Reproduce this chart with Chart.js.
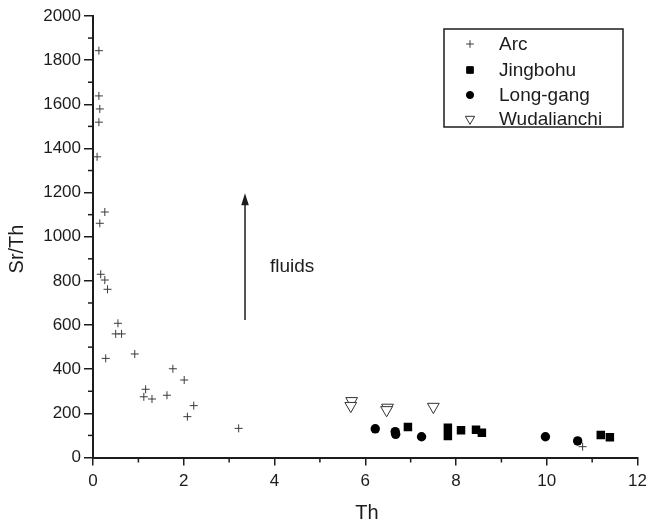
<!DOCTYPE html>
<html>
<head>
<meta charset="utf-8">
<script src="https://cdn.jsdelivr.net/npm/chart.js@4.4.1/dist/chart.umd.min.js"></script>
<style>
	body { margin: 0; background: #fff; }
	canvas { display: block; }
</style>
</head>
<body>
<canvas id="cntx_srth" width="653" height="525"></canvas>
<script>
// values
const arc_th = [0.13, 0.13, 0.15, 0.13, 0.09, 0.26, 0.15, 0.17, 0.26, 0.32, 0.55, 0.5, 0.63, 0.28, 0.92, 1.76, 1.16, 1.12, 1.3, 1.63, 2.01, 2.22, 2.08, 3.21, 10.79];
const arc_srth = [1843, 1638, 1579, 1519, 1362, 1112, 1061, 830, 804, 762, 608, 560, 560, 449, 469, 402, 309, 275, 265, 282, 351, 235, 185, 132, 49];
const jingbohu_th = [6.94, 7.82, 7.82, 8.11, 8.44, 8.57, 11.19, 11.39];
const jingbohu_srth = [138, 135, 97, 123, 126, 112, 102, 92];
const longgang_th = [6.22, 6.66, 6.67, 7.24, 9.97, 10.68];
const longgang_srth = [130, 117, 105, 94, 94, 75];
const wuda_th = [5.7, 5.68, 6.49, 6.47, 7.5];
const wuda_srth = [256, 234, 226, 215, 230];
const series_names = ["Arc", "Jingbohu", "Long-gang", "Wudalianchi"];
const x_ticks = [0, 2, 4, 6, 8, 10, 12];

const FONT = "'Liberation Sans', Arial, sans-serif";
const INK = "#1c1c1c";

const toPoints = (xs, ys) => xs.map((x, i) => ({ x: x, y: ys[i] }));

// minor ticks, axis titles, arrow, note and boxed legend
const extras = {
	id: "extras",
	afterDraw: (chart) => {
		const ctx = chart.ctx;
		const xs = chart.scales.x;
		const ys = chart.scales.y;
		const area = chart.chartArea;
		ctx.save();
		ctx.strokeStyle = INK;
		ctx.lineWidth = 1.5;
		for (let v = 100; v < 2000; v += 200) {
			const py = ys.getPixelForValue(v);
			ctx.beginPath();
			ctx.moveTo(area.left - 5, py);
			ctx.lineTo(area.left, py);
			ctx.stroke();
		}
		for (let v = 1; v < 12; v += 2) {
			const px = xs.getPixelForValue(v);
			ctx.beginPath();
			ctx.moveTo(px, area.bottom);
			ctx.lineTo(px, area.bottom + 5);
			ctx.stroke();
		}

		// axis titles
		ctx.fillStyle = INK;
		ctx.font = "20px " + FONT;
		ctx.textAlign = "center";
		ctx.textBaseline = "middle";
		ctx.fillText("Th", 367, 513);
		ctx.save();
		ctx.translate(17, 249);
		ctx.rotate(-Math.PI / 2);
		ctx.fillText("Sr/Th", 0, 0);
		ctx.restore();

		// fluids arrow
		const ax = xs.getPixelForValue(3.35);
		const ay0 = ys.getPixelForValue(623);
		const ay1 = ys.getPixelForValue(1197);
		ctx.beginPath();
		ctx.moveTo(ax, ay0);
		ctx.lineTo(ax, ay1 + 10);
		ctx.stroke();
		ctx.beginPath();
		ctx.moveTo(ax, ay1);
		ctx.lineTo(ax - 3.8, ay1 + 12);
		ctx.lineTo(ax + 3.8, ay1 + 12);
		ctx.closePath();
		ctx.fill();
		ctx.font = "19px " + FONT;
		ctx.textAlign = "left";
		ctx.fillText("fluids", xs.getPixelForValue(3.9), ys.getPixelForValue(863));

		// legend box
		ctx.lineWidth = 1.5;
		ctx.strokeRect(444, 29, 179, 98);
		const rows = [44, 70, 95, 119];
		const sizes = [3.8, 4.7, 3.6, 5.4];
		chart.data.datasets.forEach((ds, i) => {
			ctx.fillStyle = ds.backgroundColor;
			ctx.strokeStyle = ds.borderColor;
			ctx.lineWidth = 1;
			Chart.helpers.drawPoint(ctx, {
				pointStyle: ds.pointStyle,
				rotation: ds.rotation || 0,
				radius: sizes[i],
				borderWidth: 1,
			}, 470, rows[i]);
			ctx.fillStyle = INK;
			ctx.font = "19px " + FONT;
			ctx.fillText(ds.label, 499, rows[i] + 1);
		});
		ctx.restore();
	},
};

const canvas = document.querySelector("#cntx_srth");
const myChart = new Chart(canvas, {
	type: "scatter",
	data: {
		datasets: [
			{
				label: series_names[0],
				data: toPoints(arc_th, arc_srth),
				pointStyle: "cross",
				pointRadius: 4,
				borderColor: "#3a3a3a",
				backgroundColor: "#3a3a3a",
				borderWidth: 1,
			},
			{
				label: series_names[1],
				data: toPoints(jingbohu_th, jingbohu_srth),
				pointStyle: "rect",
				pointRadius: 6,
				borderColor: "#000",
				backgroundColor: "#000",
				borderWidth: 0,
			},
			{
				label: series_names[2],
				data: toPoints(longgang_th, longgang_srth),
				pointStyle: "circle",
				pointRadius: 4.7,
				borderColor: "#000",
				backgroundColor: "#000",
				borderWidth: 0,
			},
			{
				label: series_names[3],
				data: toPoints(wuda_th, wuda_srth),
				pointStyle: "triangle",
				rotation: 180,
				pointRadius: 6.8,
				borderColor: "#333",
				backgroundColor: "#fff",
				borderWidth: 1,
			},
		],
	},
	options: {
		responsive: false,
		animation: false,
		devicePixelRatio: 1,
		layout: {
			padding: { left: 0, right: 11, top: 16, bottom: 0 },
		},
		plugins: {
			legend: { display: false },
			tooltip: { enabled: false },
		},
		scales: {
			x: {
				type: "linear",
				min: 0,
				max: 12,
				afterBuildTicks: (scale) => {
					scale.ticks = x_ticks.map((v) => ({ value: v }));
				},
				afterFit: (scale) => {
					scale.height = 67.5;
				},
				ticks: {
					font: { size: 17, family: FONT },
					color: INK,
					padding: 6,
					maxRotation: 0,
					callback: (v) => String(v),
				},
				grid: {
					drawOnChartArea: false,
					color: INK,
					lineWidth: 1.5,
					tickLength: 8,
				},
				border: { color: INK, width: 2 },
			},
			y: {
				type: "linear",
				min: 0,
				max: 2000,
				ticks: {
					stepSize: 200,
					font: { size: 17, family: FONT },
					color: INK,
					padding: 3,
					callback: (v) => String(v),
				},
				afterFit: (scale) => {
					scale.width = 93;
				},
				grid: {
					drawOnChartArea: false,
					color: INK,
					lineWidth: 1.5,
					tickLength: 9,
				},
				border: { color: INK, width: 2 },
			},
		},
	},
	plugins: [extras],
});
</script>
</body>
</html>
